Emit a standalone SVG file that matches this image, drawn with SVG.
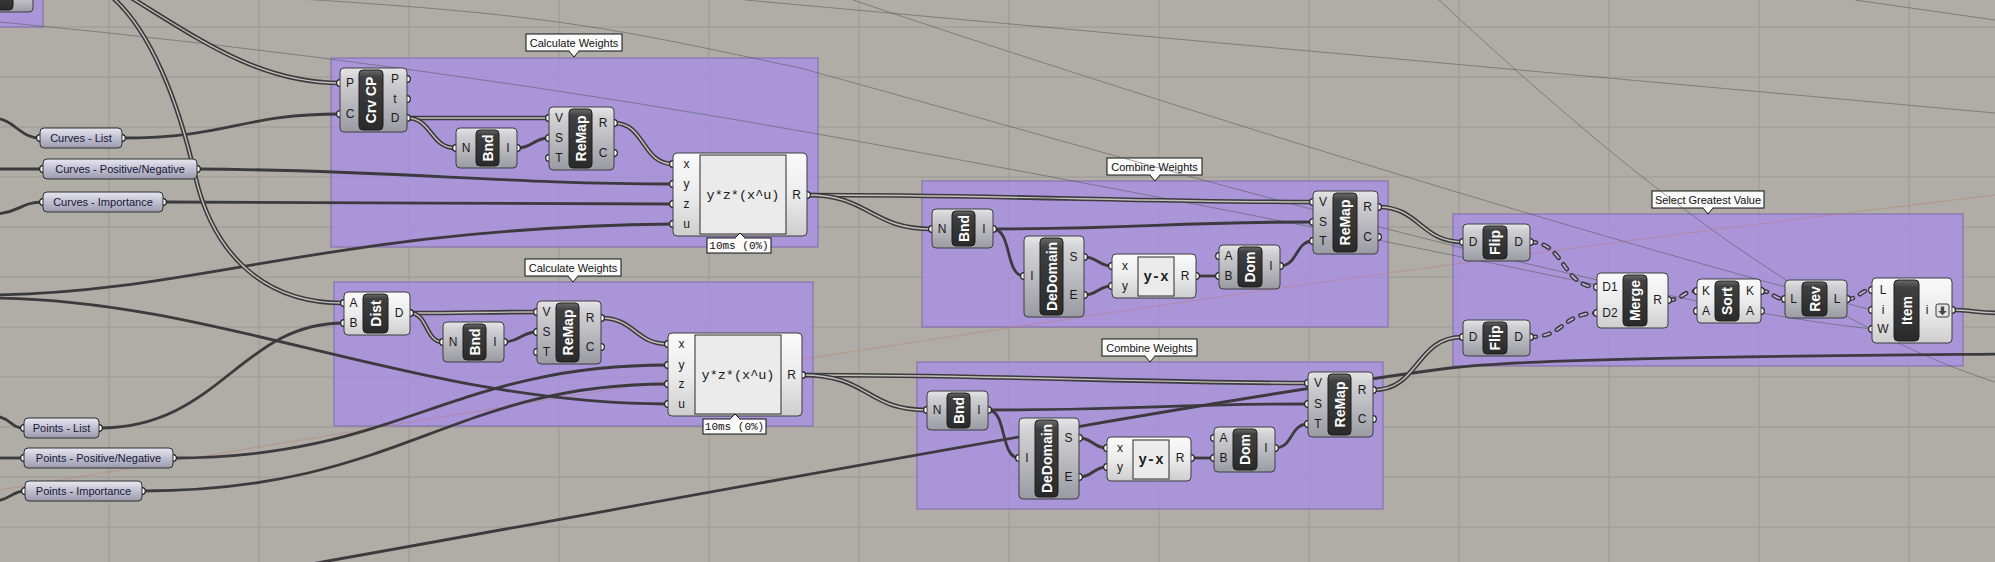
<svg xmlns="http://www.w3.org/2000/svg" xmlns:xlink="http://www.w3.org/1999/xlink" width="1995" height="562" viewBox="0 0 1995 562">
<style>
.grid{fill:none;stroke:#9a9892;stroke-width:1}
.grp{fill:#a88ee5;fill-opacity:.8;stroke:#7e6bab;stroke-width:1}
.tag{fill:#fbfbfb;stroke:#111;stroke-width:1}
.tagt{font-family:"Liberation Sans",Arial,sans-serif;font-size:11px;fill:#111;text-anchor:middle;dominant-baseline:central}
.bg{fill:url(#gGray);stroke:#3c3c40;stroke-width:1}
.bw{fill:url(#gWhite);stroke:#3c3c40;stroke-width:1}
.inner{fill:url(#gDark);stroke:#1e1e1e;stroke-width:1}
.lbl{font-family:"Liberation Sans",Arial,sans-serif;font-size:14px;font-weight:bold;fill:#fff;text-anchor:middle;dominant-baseline:central}
.pl{font-family:"Liberation Sans",Arial,sans-serif;font-size:12px;fill:#1a1a1a;text-anchor:middle;dominant-baseline:central}
.grip{fill:#fff;stroke:#1e1e1e;stroke-width:1.2}
.pan{fill:url(#gPanel);stroke:#2e2e30;stroke-width:1}
.pant{font-family:"Liberation Sans",Arial,sans-serif;font-size:11px;fill:#15153a;text-anchor:middle;dominant-baseline:central}
.exbox{fill:#ebebeb;stroke:#2a2a2a;stroke-width:1}
.ext{font-family:"Liberation Mono","Courier New",monospace;font-size:13.5px;fill:#1a1a1a;text-anchor:middle;dominant-baseline:central}
.extb{font-family:"Liberation Mono","Courier New",monospace;font-size:14px;font-weight:bold;fill:#1a1a1a;text-anchor:middle;dominant-baseline:central}
.tim{font-family:"Liberation Mono","Courier New",monospace;font-size:11px;fill:#111;text-anchor:middle;dominant-baseline:central}
.w{fill:none;stroke:#3c3a3e;stroke-width:2.8}
.dw{fill:none;stroke:#3c3a3e;stroke-width:4.6}
.dwi{fill:none;stroke:#c3c1bb;stroke-width:1.4}
.tw{fill:none;stroke:#3c3a3e;stroke-width:4.6;stroke-dasharray:6 8;stroke-linecap:round}
.twi{fill:none;stroke:#c2b4e4;stroke-width:1.6;stroke-dasharray:6 8;stroke-linecap:round}
.faint{fill:none;stroke:#5a5856;stroke-width:1;stroke-opacity:.55}
.red{fill:none;stroke:#c07a7a;stroke-width:1;stroke-opacity:.5}
</style>
<defs>
<linearGradient id="gGray" x1="0" y1="0" x2="0" y2="1">
<stop offset="0" stop-color="#e6e6e8"/><stop offset="0.15" stop-color="#d3d3d6"/><stop offset="1" stop-color="#9a9aa3"/>
</linearGradient>
<linearGradient id="gWhite" x1="0" y1="0" x2="0" y2="1">
<stop offset="0" stop-color="#fafafa"/><stop offset="0.5" stop-color="#ececec"/><stop offset="1" stop-color="#cdcdcd"/>
</linearGradient>
<linearGradient id="gDark" x1="0" y1="0" x2="0" y2="1">
<stop offset="0" stop-color="#6a6a6a"/><stop offset="0.12" stop-color="#404040"/><stop offset="1" stop-color="#2a2a2a"/>
</linearGradient>
<linearGradient id="gPanel" x1="0" y1="0" x2="0" y2="1">
<stop offset="0" stop-color="#e8e7f0"/><stop offset="0.45" stop-color="#c4c3d2"/><stop offset="1" stop-color="#9b9aae"/>
</linearGradient>
<path id="d1" d="M112,-3 C150,30 178,100 195,175 C212,250 260,303 343,303"/>
<path id="d2" d="M130,-3 C200,40 260,83 340,83"/>
<path id="d3" d="M407,118 C470,118 490,118 549,118"/>
<path id="d4" d="M407,118 C432,118 430,148 456,148"/>
<path id="d5" d="M614,123 C645,123 642,164 673,164"/>
<path id="d6" d="M807,195 C1000,195 1150,202 1313,202"/>
<path id="d7" d="M807,195 C870,195 870,229 932,229"/>
<path id="d8" d="M410,313 C470,313 480,312 537,312"/>
<path id="d9" d="M410,313 C428,313 425,342 443,342"/>
<path id="d10" d="M601,318 C635,318 635,344 668,344"/>
<path id="d11" d="M802,375 C1000,375 1150,383 1308,383"/>
<path id="d12" d="M802,375 C870,375 865,410 927,410"/>
<path id="d13" d="M1378,207 C1420,207 1420,242 1463,242"/>
<path id="d14" d="M1373,390 C1420,390 1415,337 1463,337"/>
<path id="d15" d="M1952,310 C1970,310 1980,313 2000,313"/>
<path id="t1" d="M1530,242 C1565,242 1562,287 1597,287"/>
<path id="t2" d="M1530,337 C1565,337 1562,313 1597,313"/>
<path id="t3" d="M1668,300 C1684,300 1681,291 1697,291"/>
<path id="t4" d="M1761,291 C1773,291 1773,299 1785,299"/>
<path id="t5" d="M1847,299 C1860,299 1859,290 1872,290"/>
</defs>

<rect x="0" y="0" width="1995" height="562" fill="#afada6"/>
<path class="grid" d="M109,0V562M259,0V562M409,0V562M559,0V562M709,0V562M859,0V562M1009,0V562M1159,0V562M1309,0V562M1459,0V562M1609,0V562M1759,0V562M1909,0V562M0,27H1995M0,77H1995M0,127H1995M0,177H1995M0,227H1995M0,277H1995M0,327H1995M0,377H1995M0,427H1995M0,477H1995M0,527H1995"/>

<g id="groups">
<rect class="grp" x="-10" y="-10" width="53" height="37"/>
<g id="grp-calc1">
<rect class="grp" x="331" y="58" width="487" height="189"/>
<rect class="tag" x="526" y="34" width="96" height="17"/>
<path class="tag" d="M569,51 L574,57 L579,51"/>
<path d="M569.5,50.5 H578.5" stroke="#fbfbfb" stroke-width="1.5"/>
<text class="tagt" x="574" y="42.5">Calculate Weights</text>
</g>
<g id="grp-calc2">
<rect class="grp" x="334" y="282" width="479" height="144"/>
<rect class="tag" x="525" y="259" width="96" height="17"/>
<path class="tag" d="M568,276 L573,282 L578,276"/>
<path d="M568.5,275.5 H577.5" stroke="#fbfbfb" stroke-width="1.5"/>
<text class="tagt" x="573" y="267.5">Calculate Weights</text>
</g>
<g id="grp-comb1">
<rect class="grp" x="922" y="181" width="466" height="146"/>
<rect class="tag" x="1107" y="158" width="95" height="17"/>
<path class="tag" d="M1150,175 L1155,181 L1160,175"/>
<path d="M1150.5,174.5 H1159.5" stroke="#fbfbfb" stroke-width="1.5"/>
<text class="tagt" x="1154.5" y="166.5">Combine Weights</text>
</g>
<g id="grp-comb2">
<rect class="grp" x="917" y="362" width="466" height="147"/>
<rect class="tag" x="1102" y="339" width="95" height="17"/>
<path class="tag" d="M1145,356 L1150,362 L1155,356"/>
<path d="M1145.5,355.5 H1154.5" stroke="#fbfbfb" stroke-width="1.5"/>
<text class="tagt" x="1149.5" y="347.5">Combine Weights</text>
</g>
<g id="grp-select">
<rect class="grp" x="1453" y="214" width="510" height="152"/>
<rect class="tag" x="1652" y="191" width="112" height="17"/>
<path class="tag" d="M1703,208 L1708,214 L1713,208"/>
<path d="M1703.5,207.5 H1712.5" stroke="#fbfbfb" stroke-width="1.5"/>
<text class="tagt" x="1708" y="199.5">Select Greatest Value</text>
</g>
</g>

<g id="connectors">
<path class="red" d="M0,490 C600,390 1200,290 1995,195"/>
<path class="faint" d="M0,22 Q420,62 840,138 T1597,285"/>
<path class="faint" d="M745,0 L1995,113"/>
<path class="faint" d="M300,-1 C560,15 620,30 800,68 C1100,150 1600,300 1872,329"/>
<path class="faint" d="M853,0 C1150,100 1600,240 1872,310"/>
<path class="faint" d="M1439,0 C1600,150 1800,320 1995,382"/>
<path class="faint" d="M1855,0 L1995,20"/>

<path class="w" d="M-5,118 C15,120 20,138 40,138"/>
<path class="w" d="M-5,169 L43,169"/>
<path class="w" d="M-5,214 C20,213 20,202 43,202"/>
<path class="w" d="M122,138 C230,138 240,114 340,114"/>
<path class="w" d="M197,169 C400,170 500,184 673,184"/>
<path class="w" d="M163,202 C400,202 450,204 673,204"/>
<path class="w" d="M-5,295 C200,292 330,228 673,224"/>
<path class="w" d="M517,148 C533,148 533,138 549,138"/>
<path class="w" d="M-5,416 C12,418 10,428 24,428"/>
<path class="w" d="M-5,458 L24,458"/>
<path class="w" d="M-5,501 C10,500 12,491 25,491"/>
<path class="w" d="M99,428 C220,428 240,323 344,323"/>
<path class="w" d="M173,458 C400,458 450,365 668,365"/>
<path class="w" d="M142,491 C400,491 450,384 668,384"/>
<path class="w" d="M-5,298 C220,300 420,404 668,404"/>
<path class="w" d="M504,342 C520,342 521,332 537,332"/>
<path class="w" d="M300,566 C700,495 1200,400 1450,368 C1530,358 1800,356 2000,354"/>
<path class="w" d="M993,229 C1150,229 1160,222 1313,222"/>
<path class="w" d="M993,229 C1012,229 1005,276 1024,276"/>
<path class="w" d="M1084,257 C1098,257 1098,266 1112,266"/>
<path class="w" d="M1084,295 C1098,295 1098,286 1112,286"/>
<path class="w" d="M1196,276 L1219,276"/>
<path class="w" d="M1280,266 C1298,266 1295,241 1313,241"/>
<path class="w" d="M988,410 C1150,410 1160,404 1308,404"/>
<path class="w" d="M988,410 C1007,410 1000,458 1019,458"/>
<path class="w" d="M1079,438 C1093,438 1093,448 1107,448"/>
<path class="w" d="M1079,477 C1093,477 1093,467 1107,467"/>
<path class="w" d="M1191,458 L1214,458"/>
<path class="w" d="M1275,448 C1293,448 1290,424 1308,424"/>

<use xlink:href="#d1" class="dw"/><use xlink:href="#d1" class="dwi"/>
<use xlink:href="#d2" class="dw"/><use xlink:href="#d2" class="dwi"/>
<use xlink:href="#d3" class="dw"/><use xlink:href="#d3" class="dwi"/>
<use xlink:href="#d4" class="dw"/><use xlink:href="#d4" class="dwi"/>
<use xlink:href="#d5" class="dw"/><use xlink:href="#d5" class="dwi"/>
<use xlink:href="#d6" class="dw"/><use xlink:href="#d6" class="dwi"/>
<use xlink:href="#d7" class="dw"/><use xlink:href="#d7" class="dwi"/>
<use xlink:href="#d8" class="dw"/><use xlink:href="#d8" class="dwi"/>
<use xlink:href="#d9" class="dw"/><use xlink:href="#d9" class="dwi"/>
<use xlink:href="#d10" class="dw"/><use xlink:href="#d10" class="dwi"/>
<use xlink:href="#d11" class="dw"/><use xlink:href="#d11" class="dwi"/>
<use xlink:href="#d12" class="dw"/><use xlink:href="#d12" class="dwi"/>
<use xlink:href="#d13" class="dw"/><use xlink:href="#d13" class="dwi"/>
<use xlink:href="#d14" class="dw"/><use xlink:href="#d14" class="dwi"/>
<use xlink:href="#d15" class="dw"/><use xlink:href="#d15" class="dwi"/>
<use xlink:href="#t1" class="tw"/><use xlink:href="#t1" class="twi"/>
<use xlink:href="#t2" class="tw"/><use xlink:href="#t2" class="twi"/>
<use xlink:href="#t3" class="tw"/><use xlink:href="#t3" class="twi"/>
<use xlink:href="#t4" class="tw"/><use xlink:href="#t4" class="twi"/>
<use xlink:href="#t5" class="tw"/><use xlink:href="#t5" class="twi"/>
</g>

<g id="n-partial">
<rect class="bg" x="-10" y="-10" width="43" height="22" rx="4"/>
<rect class="inner" x="-10" y="-10" width="23" height="20" rx="4"/>
</g>

<g id="n-curves-list">
<circle class="grip" cx="40" cy="138" r="3.3"/><circle class="grip" cx="122" cy="138" r="3.3"/>
<rect class="pan" x="40" y="128" width="82" height="20" rx="4"/>
<text class="pant" x="81" y="138">Curves - List</text>
</g>
<g id="n-curves-pn">
<circle class="grip" cx="43" cy="169" r="3.3"/><circle class="grip" cx="197" cy="169" r="3.3"/>
<rect class="pan" x="43" y="159" width="154" height="20" rx="4"/>
<text class="pant" x="120" y="169">Curves - Positive/Negative</text>
</g>
<g id="n-curves-imp">
<circle class="grip" cx="43" cy="202" r="3.3"/><circle class="grip" cx="163" cy="202" r="3.3"/>
<rect class="pan" x="43" y="192" width="120" height="20" rx="4"/>
<text class="pant" x="103" y="202">Curves - Importance</text>
</g>
<g id="n-points-list">
<circle class="grip" cx="24" cy="428" r="3.3"/><circle class="grip" cx="99" cy="428" r="3.3"/>
<rect class="pan" x="24" y="418" width="75" height="20" rx="4"/>
<text class="pant" x="61.5" y="428">Points - List</text>
</g>
<g id="n-points-pn">
<circle class="grip" cx="24" cy="458" r="3.3"/><circle class="grip" cx="173" cy="458" r="3.3"/>
<rect class="pan" x="24" y="448" width="149" height="20" rx="4"/>
<text class="pant" x="98.5" y="458">Points - Positive/Negative</text>
</g>
<g id="n-points-imp">
<circle class="grip" cx="25" cy="491" r="3.3"/><circle class="grip" cx="142" cy="491" r="3.3"/>
<rect class="pan" x="25" y="481" width="117" height="20" rx="4"/>
<text class="pant" x="83.5" y="491">Points - Importance</text>
</g>

<g id="n-crvcp">
<circle class="grip" cx="340" cy="83" r="3.3"/><circle class="grip" cx="340" cy="114" r="3.3"/>
<circle class="grip" cx="407" cy="79" r="3.3"/><circle class="grip" cx="407" cy="99" r="3.3"/><circle class="grip" cx="407" cy="118" r="3.3"/>
<rect class="bg" x="340" y="68" width="67" height="64" rx="4"/>
<rect class="inner" x="359" y="70" width="24" height="60" rx="4"/>
<text class="lbl" transform="translate(371,100) rotate(-90)">Crv CP</text>
<text class="pl" x="350" y="83">P</text><text class="pl" x="350" y="114">C</text>
<text class="pl" x="395" y="79">P</text><text class="pl" x="395" y="99">t</text><text class="pl" x="395" y="118">D</text>
</g>
<g id="n-bnd1">
<circle class="grip" cx="456" cy="148" r="3.3"/><circle class="grip" cx="517" cy="148" r="3.3"/>
<rect class="bg" x="456" y="128" width="61" height="40" rx="4"/>
<rect class="inner" x="476" y="130" width="23" height="36" rx="4"/>
<text class="lbl" transform="translate(487.5,148) rotate(-90)">Bnd</text>
<text class="pl" x="466" y="148">N</text><text class="pl" x="508" y="148">I</text>
</g>
<g id="n-remap1">
<circle class="grip" cx="549" cy="118" r="3.3"/><circle class="grip" cx="549" cy="138" r="3.3"/><circle class="grip" cx="549" cy="158" r="3.3"/>
<circle class="grip" cx="614" cy="123" r="3.3"/><circle class="grip" cx="614" cy="153" r="3.3"/>
<rect class="bg" x="549" y="107" width="65" height="63" rx="4"/>
<rect class="inner" x="569" y="109" width="23" height="59" rx="4"/>
<text class="lbl" transform="translate(580.5,138.5) rotate(-90)">ReMap</text>
<text class="pl" x="559" y="118">V</text><text class="pl" x="559" y="138">S</text><text class="pl" x="559" y="158">T</text>
<text class="pl" x="603" y="123">R</text><text class="pl" x="603" y="153">C</text>
</g>
<g id="n-expr1">
<circle class="grip" cx="673" cy="164" r="3.3"/><circle class="grip" cx="673" cy="184" r="3.3"/><circle class="grip" cx="673" cy="204" r="3.3"/><circle class="grip" cx="673" cy="224" r="3.3"/>
<circle class="grip" cx="807" cy="195" r="3.3"/>
<rect class="bw" x="673" y="153" width="134" height="83" rx="4"/>
<rect class="exbox" x="700" y="155" width="86" height="79"/>
<text class="ext" x="743" y="195">y*z*(x^u)</text>
<text class="pl" x="686.5" y="164">x</text><text class="pl" x="686.5" y="184">y</text><text class="pl" x="686.5" y="204">z</text><text class="pl" x="686.5" y="224">u</text>
<text class="pl" x="796.5" y="195">R</text>
<rect class="tag" x="707" y="238" width="64" height="15"/>
<path class="tag" d="M735,238 L740,233 L745,238"/>
<path d="M735.5,238.5 H744.5" stroke="#fbfbfb" stroke-width="1.5"/>
<text class="tim" x="739" y="245.5">10ms (0%)</text>
</g>

<g id="n-dist">
<circle class="grip" cx="344" cy="303" r="3.3"/><circle class="grip" cx="344" cy="323" r="3.3"/>
<circle class="grip" cx="410" cy="313" r="3.3"/>
<rect class="bw" x="344" y="292" width="66" height="43" rx="4"/>
<rect class="inner" x="363" y="294" width="25" height="39" rx="4"/>
<text class="lbl" transform="translate(375.5,313.5) rotate(-90)">Dist</text>
<text class="pl" x="353.5" y="303">A</text><text class="pl" x="353.5" y="323">B</text>
<text class="pl" x="399" y="313">D</text>
</g>
<g id="n-bnd2">
<circle class="grip" cx="443" cy="342" r="3.3"/><circle class="grip" cx="504" cy="342" r="3.3"/>
<rect class="bg" x="443" y="322" width="61" height="40" rx="4"/>
<rect class="inner" x="463" y="324" width="23" height="36" rx="4"/>
<text class="lbl" transform="translate(474.5,342) rotate(-90)">Bnd</text>
<text class="pl" x="453" y="342">N</text><text class="pl" x="495" y="342">I</text>
</g>
<g id="n-remap2">
<circle class="grip" cx="537" cy="312" r="3.3"/><circle class="grip" cx="537" cy="332" r="3.3"/><circle class="grip" cx="537" cy="352" r="3.3"/>
<circle class="grip" cx="601" cy="318" r="3.3"/><circle class="grip" cx="601" cy="347" r="3.3"/>
<rect class="bg" x="537" y="301" width="64" height="63" rx="4"/>
<rect class="inner" x="556" y="303" width="23" height="59" rx="4"/>
<text class="lbl" transform="translate(567.5,332.5) rotate(-90)">ReMap</text>
<text class="pl" x="546.5" y="312">V</text><text class="pl" x="546.5" y="332">S</text><text class="pl" x="546.5" y="352">T</text>
<text class="pl" x="590" y="318">R</text><text class="pl" x="590" y="347">C</text>
</g>
<g id="n-expr2">
<circle class="grip" cx="668" cy="344" r="3.3"/><circle class="grip" cx="668" cy="365" r="3.3"/><circle class="grip" cx="668" cy="384" r="3.3"/><circle class="grip" cx="668" cy="404" r="3.3"/>
<circle class="grip" cx="802" cy="375" r="3.3"/>
<rect class="bw" x="668" y="333" width="134" height="83" rx="4"/>
<rect class="exbox" x="695" y="335" width="86" height="79"/>
<text class="ext" x="738" y="375">y*z*(x^u)</text>
<text class="pl" x="681.5" y="344">x</text><text class="pl" x="681.5" y="365">y</text><text class="pl" x="681.5" y="384">z</text><text class="pl" x="681.5" y="404">u</text>
<text class="pl" x="791.5" y="375">R</text>
<rect class="tag" x="703" y="419" width="63" height="15"/>
<path class="tag" d="M730,419 L735,414 L740,419"/>
<path d="M730.5,419.5 H739.5" stroke="#fbfbfb" stroke-width="1.5"/>
<text class="tim" x="734.5" y="426.5">10ms (0%)</text>
</g>

<g id="n-bnd3">
<circle class="grip" cx="932" cy="229" r="3.3"/><circle class="grip" cx="993" cy="229" r="3.3"/>
<rect class="bg" x="932" y="209" width="61" height="39" rx="4"/>
<rect class="inner" x="952" y="211" width="23" height="35" rx="4"/>
<text class="lbl" transform="translate(963.5,228.5) rotate(-90)">Bnd</text>
<text class="pl" x="942" y="229">N</text><text class="pl" x="984" y="229">I</text>
</g>
<g id="n-dedomain1">
<circle class="grip" cx="1024" cy="276" r="3.3"/>
<circle class="grip" cx="1084" cy="257" r="3.3"/><circle class="grip" cx="1084" cy="295" r="3.3"/>
<rect class="bg" x="1024" y="236" width="60" height="81" rx="4"/>
<rect class="inner" x="1040" y="238" width="23" height="77" rx="4"/>
<text class="lbl" transform="translate(1051.5,276.5) rotate(-90)">DeDomain</text>
<text class="pl" x="1032" y="276">I</text>
<text class="pl" x="1073.5" y="257">S</text><text class="pl" x="1073.5" y="295">E</text>
</g>
<g id="n-yx1">
<circle class="grip" cx="1112" cy="266" r="3.3"/><circle class="grip" cx="1112" cy="286" r="3.3"/>
<circle class="grip" cx="1196" cy="276" r="3.3"/>
<rect class="bw" x="1112" y="254" width="84" height="44" rx="4"/>
<rect class="exbox" x="1138" y="257" width="36" height="39"/>
<text class="extb" x="1156" y="276.5">y-x</text>
<text class="pl" x="1125" y="266">x</text><text class="pl" x="1125" y="286">y</text>
<text class="pl" x="1185" y="276">R</text>
</g>
<g id="n-dom1">
<circle class="grip" cx="1219" cy="256" r="3.3"/><circle class="grip" cx="1219" cy="276" r="3.3"/>
<circle class="grip" cx="1280" cy="266" r="3.3"/>
<rect class="bg" x="1219" y="245" width="61" height="44" rx="4"/>
<rect class="inner" x="1238" y="247" width="24" height="40" rx="4"/>
<text class="lbl" transform="translate(1250,267) rotate(-90)">Dom</text>
<text class="pl" x="1228.5" y="256">A</text><text class="pl" x="1228.5" y="276">B</text>
<text class="pl" x="1271" y="266">I</text>
</g>
<g id="n-remap3">
<circle class="grip" cx="1313" cy="202" r="3.3"/><circle class="grip" cx="1313" cy="222" r="3.3"/><circle class="grip" cx="1313" cy="241" r="3.3"/>
<circle class="grip" cx="1378" cy="207" r="3.3"/><circle class="grip" cx="1378" cy="237" r="3.3"/>
<rect class="bg" x="1313" y="191" width="65" height="63" rx="4"/>
<rect class="inner" x="1333" y="193" width="24" height="59" rx="4"/>
<text class="lbl" transform="translate(1345,222.5) rotate(-90)">ReMap</text>
<text class="pl" x="1323" y="202">V</text><text class="pl" x="1323" y="222">S</text><text class="pl" x="1323" y="241">T</text>
<text class="pl" x="1367.5" y="207">R</text><text class="pl" x="1367.5" y="237">C</text>
</g>

<g id="n-bnd4">
<circle class="grip" cx="927" cy="410" r="3.3"/><circle class="grip" cx="988" cy="410" r="3.3"/>
<rect class="bg" x="927" y="391" width="61" height="39" rx="4"/>
<rect class="inner" x="947" y="393" width="23" height="35" rx="4"/>
<text class="lbl" transform="translate(958.5,410.5) rotate(-90)">Bnd</text>
<text class="pl" x="937" y="410">N</text><text class="pl" x="979" y="410">I</text>
</g>
<g id="n-dedomain2">
<circle class="grip" cx="1019" cy="458" r="3.3"/>
<circle class="grip" cx="1079" cy="438" r="3.3"/><circle class="grip" cx="1079" cy="477" r="3.3"/>
<rect class="bg" x="1019" y="418" width="60" height="81" rx="4"/>
<rect class="inner" x="1035" y="420" width="23" height="77" rx="4"/>
<text class="lbl" transform="translate(1046.5,458.5) rotate(-90)">DeDomain</text>
<text class="pl" x="1027" y="458">I</text>
<text class="pl" x="1068.5" y="438">S</text><text class="pl" x="1068.5" y="477">E</text>
</g>
<g id="n-yx2">
<circle class="grip" cx="1107" cy="448" r="3.3"/><circle class="grip" cx="1107" cy="467" r="3.3"/>
<circle class="grip" cx="1191" cy="458" r="3.3"/>
<rect class="bw" x="1107" y="437" width="84" height="44" rx="4"/>
<rect class="exbox" x="1133" y="440" width="36" height="39"/>
<text class="extb" x="1151" y="459.5">y-x</text>
<text class="pl" x="1120" y="448">x</text><text class="pl" x="1120" y="467">y</text>
<text class="pl" x="1180" y="458">R</text>
</g>
<g id="n-dom2">
<circle class="grip" cx="1214" cy="438" r="3.3"/><circle class="grip" cx="1214" cy="458" r="3.3"/>
<circle class="grip" cx="1275" cy="448" r="3.3"/>
<rect class="bg" x="1214" y="427" width="61" height="45" rx="4"/>
<rect class="inner" x="1233" y="429" width="24" height="41" rx="4"/>
<text class="lbl" transform="translate(1245,449.5) rotate(-90)">Dom</text>
<text class="pl" x="1223.5" y="438">A</text><text class="pl" x="1223.5" y="458">B</text>
<text class="pl" x="1266" y="448">I</text>
</g>
<g id="n-remap4">
<circle class="grip" cx="1308" cy="383" r="3.3"/><circle class="grip" cx="1308" cy="404" r="3.3"/><circle class="grip" cx="1308" cy="424" r="3.3"/>
<circle class="grip" cx="1373" cy="390" r="3.3"/><circle class="grip" cx="1373" cy="419" r="3.3"/>
<rect class="bg" x="1308" y="372" width="65" height="65" rx="4"/>
<rect class="inner" x="1328" y="374" width="23" height="61" rx="4"/>
<text class="lbl" transform="translate(1339.5,404.5) rotate(-90)">ReMap</text>
<text class="pl" x="1318" y="383">V</text><text class="pl" x="1318" y="404">S</text><text class="pl" x="1318" y="424">T</text>
<text class="pl" x="1362" y="390">R</text><text class="pl" x="1362" y="419">C</text>
</g>

<g id="n-flip1">
<circle class="grip" cx="1463" cy="242" r="3.3"/><circle class="grip" cx="1530" cy="242" r="3.3"/>
<rect class="bg" x="1463" y="224" width="67" height="37" rx="4"/>
<rect class="inner" x="1483" y="226" width="24" height="33" rx="4"/>
<text class="lbl" transform="translate(1495,242.5) rotate(-90)">Flip</text>
<text class="pl" x="1473" y="242">D</text><text class="pl" x="1518.5" y="242">D</text>
</g>
<g id="n-flip2">
<circle class="grip" cx="1463" cy="337" r="3.3"/><circle class="grip" cx="1530" cy="337" r="3.3"/>
<rect class="bg" x="1463" y="320" width="67" height="36" rx="4"/>
<rect class="inner" x="1483" y="322" width="24" height="32" rx="4"/>
<text class="lbl" transform="translate(1495,338) rotate(-90)">Flip</text>
<text class="pl" x="1473" y="337">D</text><text class="pl" x="1518.5" y="337">D</text>
</g>
<g id="n-merge">
<circle class="grip" cx="1597" cy="287" r="3.3"/><circle class="grip" cx="1597" cy="313" r="3.3"/>
<circle class="grip" cx="1668" cy="300" r="3.3"/>
<rect class="bw" x="1597" y="273" width="71" height="55" rx="4"/>
<rect class="inner" x="1623" y="275" width="24" height="51" rx="4"/>
<text class="lbl" transform="translate(1635,300.5) rotate(-90)">Merge</text>
<text class="pl" x="1610" y="287">D1</text><text class="pl" x="1610" y="313">D2</text>
<text class="pl" x="1657.5" y="300">R</text>
</g>
<g id="n-sort">
<circle class="grip" cx="1697" cy="291" r="3.3"/><circle class="grip" cx="1697" cy="311" r="3.3"/>
<circle class="grip" cx="1761" cy="291" r="3.3"/><circle class="grip" cx="1761" cy="311" r="3.3"/>
<rect class="bw" x="1697" y="279" width="64" height="44" rx="4"/>
<rect class="inner" x="1715" y="281" width="24" height="40" rx="4"/>
<text class="lbl" transform="translate(1727,301) rotate(-90)">Sort</text>
<text class="pl" x="1706" y="291">K</text><text class="pl" x="1706" y="311">A</text>
<text class="pl" x="1750" y="291">K</text><text class="pl" x="1750" y="311">A</text>
</g>
<g id="n-rev">
<circle class="grip" cx="1785" cy="299" r="3.3"/><circle class="grip" cx="1847" cy="299" r="3.3"/>
<rect class="bg" x="1785" y="280" width="62" height="38" rx="4"/>
<rect class="inner" x="1802" y="282" width="25" height="34" rx="4"/>
<text class="lbl" transform="translate(1814.5,299) rotate(-90)">Rev</text>
<text class="pl" x="1793.5" y="299">L</text><text class="pl" x="1837" y="299">L</text>
</g>
<g id="n-item">
<circle class="grip" cx="1872" cy="290" r="3.3"/><circle class="grip" cx="1872" cy="310" r="3.3"/><circle class="grip" cx="1872" cy="329" r="3.3"/>
<circle class="grip" cx="1952" cy="310" r="3.3"/>
<rect class="bw" x="1872" y="278" width="80" height="65" rx="4"/>
<rect class="inner" x="1894" y="280" width="25" height="61" rx="4"/>
<text class="lbl" transform="translate(1906.5,310.5) rotate(-90)">Item</text>
<text class="pl" x="1883" y="290">L</text><text class="pl" x="1883" y="310">i</text><text class="pl" x="1883" y="329">W</text>
<text class="pl" x="1927" y="310">i</text>
<rect x="1936" y="304" width="13" height="13" rx="2" fill="#e4e4e4" stroke="#3a3a3a" stroke-width="1"/>
<path d="M1940.8,306.5 h3.4 v4.5 h2.6 l-4.3,4.3 l-4.3,-4.3 h2.6 z" fill="#4a4a4a"/>
</g>
</svg>
